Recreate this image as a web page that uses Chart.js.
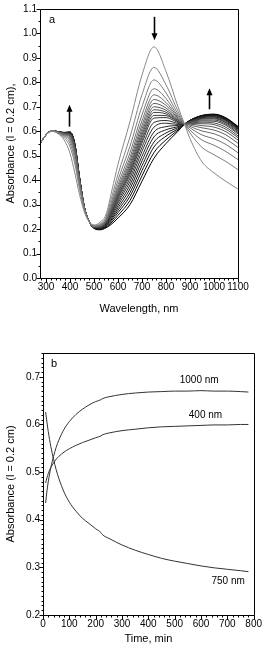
<!DOCTYPE html>
<html>
<head>
<meta charset="utf-8">
<script src="https://cdn.jsdelivr.net/npm/chart.js@4"></script>
<style>
  body { margin: 0; background: #fff; width: 265px; height: 650px; overflow: hidden; }
  canvas { display: block; }
</style>
</head>
<body>
<canvas id="specChart" width="265" height="320"></canvas>
<canvas id="kinChart" width="265" height="330"></canvas>
<script>
// ---- panel a: spectra, first one (grey) to last one (black)
const wavelengths = [275, 300, 325, 350, 375, 400, 420, 440, 460, 480, 500, 525, 550, 575, 600, 650, 700, 750, 800, 850, 875, 900, 950, 1000, 1050, 1100];
const spectra = [
  [0.55, 0.585, 0.600, 0.590, 0.565, 0.510, 0.430, 0.340, 0.270, 0.230, 0.217, 0.228, 0.260, 0.360, 0.465, 0.640, 0.830, 0.945, 0.845, 0.700, 0.635, 0.570, 0.475, 0.430, 0.395, 0.363],
  [0.55, 0.585, 0.601, 0.592, 0.574, 0.537, 0.467, 0.362, 0.276, 0.230, 0.214, 0.222, 0.250, 0.335, 0.424, 0.577, 0.750, 0.861, 0.790, 0.682, 0.634, 0.593, 0.534, 0.504, 0.476, 0.443],
  [0.55, 0.585, 0.602, 0.594, 0.579, 0.551, 0.486, 0.373, 0.279, 0.230, 0.213, 0.219, 0.244, 0.319, 0.400, 0.539, 0.701, 0.810, 0.757, 0.670, 0.633, 0.605, 0.564, 0.543, 0.517, 0.484],
  [0.55, 0.585, 0.602, 0.595, 0.582, 0.561, 0.500, 0.381, 0.282, 0.230, 0.212, 0.216, 0.239, 0.308, 0.382, 0.512, 0.667, 0.774, 0.734, 0.662, 0.632, 0.614, 0.585, 0.569, 0.546, 0.512],
  [0.55, 0.585, 0.602, 0.595, 0.585, 0.568, 0.510, 0.387, 0.283, 0.230, 0.211, 0.215, 0.236, 0.301, 0.370, 0.493, 0.643, 0.749, 0.718, 0.657, 0.632, 0.620, 0.601, 0.590, 0.568, 0.534],
  [0.55, 0.585, 0.603, 0.596, 0.587, 0.574, 0.518, 0.391, 0.285, 0.230, 0.210, 0.213, 0.234, 0.295, 0.361, 0.479, 0.625, 0.730, 0.706, 0.653, 0.631, 0.625, 0.614, 0.605, 0.585, 0.551],
  [0.55, 0.585, 0.603, 0.596, 0.588, 0.578, 0.524, 0.395, 0.286, 0.230, 0.210, 0.212, 0.232, 0.290, 0.353, 0.467, 0.610, 0.714, 0.695, 0.649, 0.631, 0.629, 0.623, 0.617, 0.598, 0.564],
  [0.55, 0.585, 0.603, 0.597, 0.590, 0.581, 0.528, 0.397, 0.286, 0.230, 0.209, 0.211, 0.230, 0.286, 0.347, 0.457, 0.597, 0.700, 0.686, 0.646, 0.631, 0.632, 0.631, 0.627, 0.608, 0.574],
  [0.55, 0.585, 0.603, 0.597, 0.591, 0.584, 0.532, 0.400, 0.287, 0.230, 0.209, 0.211, 0.229, 0.282, 0.341, 0.448, 0.585, 0.688, 0.678, 0.644, 0.630, 0.634, 0.637, 0.634, 0.616, 0.581],
  [0.55, 0.585, 0.603, 0.597, 0.591, 0.587, 0.536, 0.402, 0.288, 0.230, 0.209, 0.210, 0.228, 0.279, 0.335, 0.439, 0.574, 0.677, 0.671, 0.641, 0.630, 0.636, 0.642, 0.641, 0.624, 0.589],
  [0.55, 0.585, 0.603, 0.597, 0.592, 0.588, 0.538, 0.403, 0.288, 0.230, 0.208, 0.209, 0.226, 0.275, 0.330, 0.431, 0.563, 0.665, 0.664, 0.639, 0.630, 0.638, 0.646, 0.646, 0.629, 0.594],
  [0.55, 0.585, 0.603, 0.597, 0.593, 0.590, 0.540, 0.404, 0.288, 0.230, 0.208, 0.208, 0.225, 0.272, 0.324, 0.422, 0.552, 0.654, 0.656, 0.636, 0.630, 0.639, 0.650, 0.651, 0.634, 0.599],
  [0.55, 0.585, 0.603, 0.598, 0.593, 0.591, 0.542, 0.405, 0.289, 0.230, 0.207, 0.207, 0.223, 0.266, 0.315, 0.409, 0.535, 0.636, 0.644, 0.632, 0.629, 0.640, 0.653, 0.654, 0.638, 0.603],
  [0.55, 0.585, 0.603, 0.598, 0.594, 0.593, 0.544, 0.407, 0.289, 0.230, 0.207, 0.206, 0.220, 0.261, 0.307, 0.395, 0.518, 0.617, 0.633, 0.628, 0.629, 0.641, 0.656, 0.658, 0.642, 0.607],
  [0.55, 0.585, 0.603, 0.598, 0.594, 0.594, 0.545, 0.407, 0.289, 0.230, 0.206, 0.204, 0.218, 0.254, 0.297, 0.380, 0.498, 0.597, 0.619, 0.624, 0.629, 0.642, 0.657, 0.660, 0.645, 0.610],
  [0.55, 0.585, 0.603, 0.598, 0.594, 0.594, 0.546, 0.408, 0.290, 0.230, 0.206, 0.203, 0.216, 0.248, 0.287, 0.365, 0.479, 0.577, 0.606, 0.619, 0.628, 0.643, 0.659, 0.663, 0.647, 0.612],
  [0.55, 0.585, 0.603, 0.598, 0.595, 0.595, 0.548, 0.409, 0.290, 0.230, 0.205, 0.201, 0.213, 0.242, 0.277, 0.349, 0.459, 0.556, 0.593, 0.615, 0.628, 0.644, 0.661, 0.665, 0.650, 0.615],
  [0.55, 0.585, 0.603, 0.598, 0.595, 0.596, 0.549, 0.409, 0.290, 0.230, 0.204, 0.200, 0.211, 0.236, 0.267, 0.334, 0.439, 0.536, 0.580, 0.610, 0.628, 0.644, 0.663, 0.667, 0.652, 0.617],
  [0.55, 0.585, 0.603, 0.598, 0.595, 0.597, 0.549, 0.410, 0.290, 0.230, 0.204, 0.199, 0.208, 0.229, 0.256, 0.317, 0.418, 0.513, 0.565, 0.605, 0.627, 0.645, 0.664, 0.669, 0.653, 0.618],
  [0.55, 0.585, 0.603, 0.598, 0.595, 0.597, 0.550, 0.410, 0.290, 0.230, 0.203, 0.197, 0.205, 0.222, 0.245, 0.300, 0.396, 0.490, 0.550, 0.600, 0.627, 0.645, 0.665, 0.670, 0.655, 0.620]
];
const waveTicks = [300, 400, 500, 600, 700, 800, 900, 1000, 1100];
const absTicksA = [0.0, 0.1, 0.2, 0.3, 0.4, 0.5, 0.6, 0.7, 0.8, 0.9, 1.0, 1.1];

// ---- panel b: kinetics at three wavelengths
const times = [10, 15, 20, 30, 40, 50, 60, 80, 100, 125, 150, 175, 200, 220, 225, 250, 300, 350, 400, 450, 500, 550, 600, 650, 700, 750, 780];
const abs1000 = [0.435, 0.460, 0.480, 0.510, 0.533, 0.552, 0.567, 0.590, 0.606, 0.621, 0.632, 0.641, 0.648, 0.652, 0.654, 0.658, 0.663, 0.666, 0.668, 0.669, 0.670, 0.670, 0.671, 0.670, 0.670, 0.669, 0.668];
const abs400 = [0.477, 0.488, 0.497, 0.510, 0.519, 0.527, 0.533, 0.542, 0.549, 0.556, 0.562, 0.567, 0.572, 0.576, 0.578, 0.582, 0.587, 0.590, 0.593, 0.595, 0.596, 0.597, 0.598, 0.599, 0.599, 0.600, 0.600];
const abs750 = [0.626, 0.605, 0.585, 0.553, 0.527, 0.505, 0.487, 0.458, 0.437, 0.418, 0.403, 0.392, 0.381, 0.373, 0.369, 0.361, 0.347, 0.336, 0.327, 0.319, 0.313, 0.308, 0.303, 0.299, 0.296, 0.293, 0.291];
const timeTicks = [0, 100, 200, 300, 400, 500, 600, 700, 800];
const absTicksB = [0.2, 0.3, 0.4, 0.5, 0.6, 0.7];

const FONT = '"Liberation Sans", Arial, sans-serif';
Chart.defaults.font.family = FONT;
Chart.defaults.color = '#000';

// box round the plot + outward ticks, minor ones shorter
function frameTicks(xMinor, yMinor) {
  return {
    id: 'frameTicks',
    afterDraw(chart) {
      const { ctx, chartArea: a } = chart;
      const xs = chart.scales.x, ys = chart.scales.y;
      const L = Math.round(a.left) + 0.5, R = Math.round(a.right) + 0.5;
      const T = Math.round(a.top) + 0.5, B = Math.round(a.bottom) + 0.5;
      ctx.save();
      ctx.strokeStyle = '#000';
      ctx.lineWidth = 1;
      ctx.beginPath();
      ctx.rect(L, T, R - L, B - T);
      const isMajor = (scale, v) => scale.ticks.some(t => Math.abs(t.value - v) < 1e-6);
      let n = Math.round((xs.max - xMinor.start) / xMinor.step);
      for (let i = 0; i <= n; i++) {
        const v = xMinor.start + i * xMinor.step;
        if (v < xs.min - 1e-9 || v > xs.max + 1e-9) continue;
        const px = Math.round(xs.getPixelForValue(v)) + 0.5;
        ctx.moveTo(px, B);
        ctx.lineTo(px, B + (isMajor(xs, v) ? 4 : 2));
      }
      n = Math.round((ys.max - yMinor.start) / yMinor.step);
      for (let i = 0; i <= n; i++) {
        const v = +(yMinor.start + i * yMinor.step).toFixed(4);
        if (v < ys.min - 1e-9 || v > ys.max + 1e-9) continue;
        const py = Math.round(ys.getPixelForValue(v)) + 0.5;
        ctx.moveTo(L, py);
        ctx.lineTo(L - (isMajor(ys, v) ? 4 : 2), py);
      }
      ctx.stroke();
      ctx.restore();
    }
  };
}

function drawArrow(ctx, x, yTail, yTip) {
  const dir = yTip < yTail ? -1 : 1;
  ctx.beginPath();
  ctx.lineWidth = 1.6;
  ctx.moveTo(x, yTail);
  ctx.lineTo(x, yTip - dir * 6);
  ctx.stroke();
  ctx.beginPath();
  ctx.moveTo(x, yTip);
  ctx.lineTo(x - 3, yTip - dir * 7);
  ctx.lineTo(x + 3, yTip - dir * 7);
  ctx.closePath();
  ctx.fill();
}

const specExtras = {
  id: 'specExtras',
  afterDraw(chart) {
    const { ctx } = chart;
    const xs = chart.scales.x, ys = chart.scales.y;
    ctx.save();
    ctx.fillStyle = '#000';
    ctx.strokeStyle = '#000';
    ctx.font = '11px ' + FONT;
    ctx.textBaseline = 'middle';
    ctx.fillText('a', xs.getPixelForValue(312), ys.getPixelForValue(1.055));
    drawArrow(ctx, Math.round(xs.getPixelForValue(394)) + 0.5, ys.getPixelForValue(0.619), ys.getPixelForValue(0.708));
    drawArrow(ctx, Math.round(xs.getPixelForValue(748)) + 0.5, ys.getPixelForValue(1.068), ys.getPixelForValue(0.972));
    drawArrow(ctx, Math.round(xs.getPixelForValue(981)) + 0.5, ys.getPixelForValue(0.690), ys.getPixelForValue(0.776));
    ctx.restore();
  }
};

const kinExtras = {
  id: 'kinExtras',
  afterDraw(chart) {
    const { ctx } = chart;
    const xs = chart.scales.x, ys = chart.scales.y;
    ctx.save();
    ctx.fillStyle = '#000';
    ctx.textBaseline = 'middle';
    ctx.font = '11px ' + FONT;
    ctx.fillText('b', xs.getPixelForValue(30), ys.getPixelForValue(0.728));
    ctx.font = '10px ' + FONT;
    ctx.textAlign = 'center';
    ctx.fillText('1000 nm', xs.getPixelForValue(593), ys.getPixelForValue(0.693));
    ctx.fillText('400 nm', xs.getPixelForValue(617), ys.getPixelForValue(0.619));
    ctx.fillText('750 nm', xs.getPixelForValue(703), ys.getPixelForValue(0.270));
    ctx.restore();
  }
};

function axis(min, max, tickValues, fmt, title, extra) {
  return Object.assign({
    type: 'linear',
    min: min,
    max: max,
    grid: { display: false, drawTicks: false },
    border: { display: false },
    afterBuildTicks: s => { s.ticks = tickValues.map(v => ({ value: v })); },
    ticks: { font: { size: 10 }, color: '#000', callback: fmt, autoSkip: false, maxRotation: 0 },
    title: { display: true, text: title, font: { size: 11 }, color: '#000' }
  }, extra);
}

// ---- chart a
const specSets = spectra.map((s, k) => {
  const g = Math.round(135 - 135 * k / (spectra.length - 1));
  return {
    data: wavelengths.map((w, i) => ({ x: w, y: s[i] })),
    borderColor: `rgb(${g},${g},${g})`,
    borderWidth: 1,
    pointRadius: 0,
    cubicInterpolationMode: 'monotone',
    fill: false
  };
});

new Chart(document.getElementById('specChart'), {
  type: 'line',
  data: { datasets: specSets },
  options: {
    responsive: false,
    animation: false,
    devicePixelRatio: 1,
    layout: { padding: { left: 0, right: 27, top: 6, bottom: 0 } },
    plugins: { legend: { display: false }, tooltip: { enabled: false } },
    scales: {
      x: axis(275, 1100, waveTicks, v => String(v), 'Wavelength, nm', {
        afterFit: s => { s.height = 42; }
      }),
      y: axis(0, 1.1, absTicksA, v => v.toFixed(1), 'Absorbance (l = 0.2 cm),', {
        afterFit: s => { s.width = 40; }
      })
    }
  },
  plugins: [frameTicks({ start: 280, step: 20 }, { start: 0, step: 0.05 }), specExtras]
});

// ---- chart b
const kinSeries = [abs1000, abs400, abs750];
new Chart(document.getElementById('kinChart'), {
  type: 'line',
  data: {
    datasets: kinSeries.map(vals => ({
      data: times.map((t, i) => ({ x: t, y: vals[i] })),
      borderColor: '#333',
      borderWidth: 1,
      pointRadius: 0,
      cubicInterpolationMode: 'monotone',
      fill: false
    }))
  },
  options: {
    responsive: false,
    animation: false,
    devicePixelRatio: 1,
    layout: { padding: { left: 0, right: 9, top: 33, bottom: 0 } },
    plugins: { legend: { display: false }, tooltip: { enabled: false } },
    scales: {
      x: axis(0, 800, timeTicks, v => String(v), 'Time, min', {
        afterFit: s => { s.height = 35; }
      }),
      y: axis(0.2, 0.75, absTicksB, v => v.toFixed(1), 'Absorbance (l = 0.2 cm)', {
        afterFit: s => { s.width = 43; }
      })
    }
  },
  plugins: [frameTicks({ start: 0, step: 20 }, { start: 0.2, step: 0.01 }), kinExtras]
});
</script>
</body>
</html>
